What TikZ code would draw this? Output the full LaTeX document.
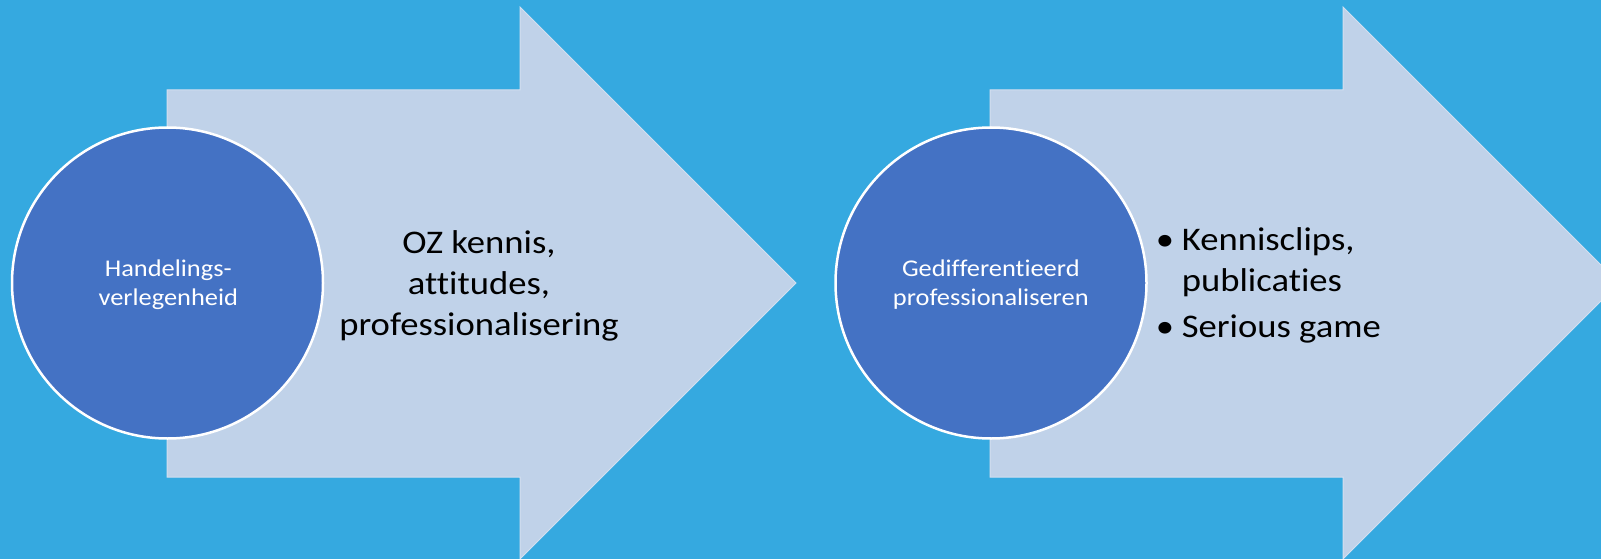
\documentclass[tikz,border=0pt]{standalone}
\usepackage{fontspec}
\setmainfont{Carlito}[Ligatures=NoCommon]
\newfontfamily\mainf[FakeStretch=1.11,Ligatures=NoCommon]{Carlito}
\newfontfamily\circf[FakeStretch=1.1,Ligatures=NoCommon]{Carlito}
\definecolor{bgblue}{RGB}{53,169,224}
\definecolor{arrowfill}{RGB}{192,210,233}
\definecolor{circfill}{RGB}{68,114,196}
\begin{document}
\begin{tikzpicture}[x=1pt,y=-1pt,
  bigarrow/.style={fill=arrowfill, draw=arrowfill!70!white, line width=1pt, line join=miter},
  disc/.style={circle, fill=circfill, draw=white, line width=2.5pt, minimum size=311pt, inner sep=0pt},
  disctext/.style={text=white, font=\circf\fontsize{24}{28.5}\selectfont, align=center, anchor=base, inner sep=0pt},
  bodytext/.style={text=black, font=\mainf\fontsize{33}{41}\selectfont, anchor=base, inner sep=0pt}]
\fill[bgblue] (0,0) rectangle (1601,559);
\useasboundingbox (0,0) rectangle (1601,559);
\clip (0,0) rectangle (1601,559);
% first arrow and circle
\draw[bigarrow] (167,90) -- (520,90) -- (520,7) -- (796,283) -- (520,559) -- (520,477) -- (167,477) -- cycle;
\node[disc] (c1) at (167.5,283) {};
\node[disctext] (t1) at (168.3,305) {Handelings-\\verlegenheid};
\node[bodytext, align=center] (b1) at (479,335) {OZ kennis,\\attitudes,\\professionalisering};
% second arrow and circle
\draw[bigarrow] (990,90) -- (1343,90) -- (1343,7) -- (1619,283) -- (1343,559) -- (1343,477) -- (990,477) -- cycle;
\node[disc] (c2) at (991,283) {};
\node[disctext] (t2) at (990.8,305) {Gedifferentieerd\\professionaliseren};
\node[bodytext, anchor=base west, align=left] (b2) at (1155.7,337) {\makebox[26pt][l]{•}Kennisclips,\\\hspace*{26pt}publicaties\\[5pt]\makebox[26pt][l]{•}Serious game};
\end{tikzpicture}
\end{document}
